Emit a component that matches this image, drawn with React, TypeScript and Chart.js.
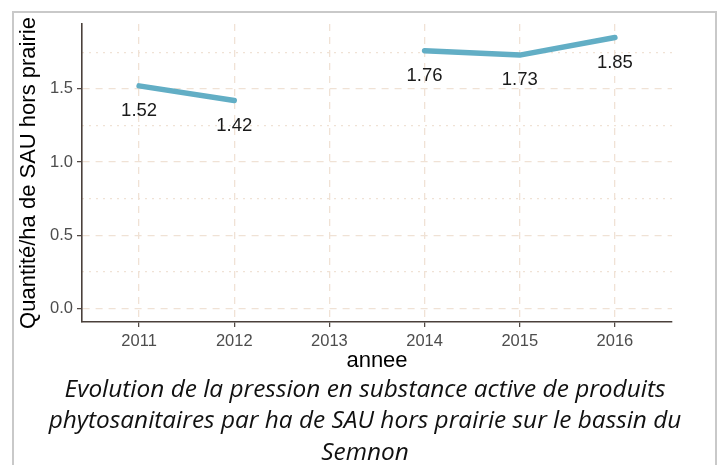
import React, { useEffect, useRef } from "react";
import { Chart, registerables } from "chart.js";

Chart.register(...registerables);

const years = [2011, 2012, 2013, 2014, 2015, 2016];
const values: (number | null)[] = [1.52, 1.42, null, 1.76, 1.73, 1.85];
const yTicks = [0, 0.5, 1.0, 1.5];
const yMinorTicks = [0.25, 0.75, 1.25, 1.75];
const yTitle = "Quantité/ha de SAU hors prairie";
const xTitle = "annee";
const captionLines = [
  "Evolution de la pression en substance active de produits",
  "phytosanitaires par ha de SAU hors prairie sur le bassin du",
  "Semnon",
];

const GRID = "#f0e2d5";
const AXIS = "#4a403b";
const LINE = "#62aec5";
const FONT = "'Liberation Sans', Arial, sans-serif";

const valueLabels = {
  id: "valueLabels",
  afterDatasetsDraw(chart: any) {
    const ctx = chart.ctx;
    const meta = chart.getDatasetMeta(0);
    ctx.save();
    ctx.font = `18.5px ${FONT}`;
    ctx.fillStyle = "#1a1a1a";
    ctx.textAlign = "center";
    ctx.textBaseline = "alphabetic";
    meta.data.forEach((el: any, i: number) => {
      const v = values[i];
      if (v === null || v === undefined) return;
      ctx.fillText(v.toFixed(2), el.x, el.y + 30);
    });
    ctx.restore();
  },
};

export default function App() {
  const ref = useRef<HTMLCanvasElement>(null);
  useEffect(() => {
    if (!ref.current) return;
    const chart = new Chart(ref.current, {
      type: "line",
      data: {
        datasets: [
          {
            data: years.map((y, i) => ({ x: y, y: values[i] })) as any,
            borderColor: LINE,
            borderWidth: 5.5,
            borderCapStyle: "round",
            borderJoinStyle: "round",
            pointRadius: 0,
            spanGaps: false,
            tension: 0,
          },
        ],
      },
      options: {
        animation: false,
        responsive: false,
        maintainAspectRatio: false,
        layout: { padding: { left: 0, top: 24, right: 52, bottom: 0 } },
        plugins: { legend: { display: false }, tooltip: { enabled: false } },
        scales: {
          x: {
            type: "linear",
            min: 2010.4,
            max: 2016.6,
            afterBuildTicks: (axis: any) => {
              axis.ticks = years.map((v) => ({ value: v }));
            },
            afterFit: (axis: any) => {
              axis.height = 58;
            },
            ticks: {
              callback: (v: any) => String(v),
              font: { family: FONT, size: 16.5 },
              color: "#4d4d4d",
              padding: 5,
              maxRotation: 0,
            },
            grid: {
              color: GRID,
              lineWidth: 1.3,
              tickColor: AXIS,
              tickLength: 5,
              tickWidth: 1.2,
            },
            border: { display: true, color: AXIS, width: 1.6, dash: [7, 6] },
            title: {
              display: true,
              text: xTitle,
              font: { family: FONT, size: 22 },
              color: "#000",
              padding: { top: 0, bottom: 6 },
            },
          },
          y: {
            position: "left",
            min: -0.0925,
            max: 1.9425,
            afterBuildTicks: (axis: any) => {
              axis.ticks = yTicks.map((v) => ({ value: v }));
            },
            afterFit: (axis: any) => {
              axis.width = 82;
            },
            ticks: {
              callback: (v: any) => Number(v).toFixed(1),
              font: { family: FONT, size: 16.5 },
              color: "#4d4d4d",
              padding: 4,
            },
            grid: {
              color: GRID,
              lineWidth: 1.3,
              tickColor: AXIS,
              tickLength: 5,
              tickWidth: 1.2,
            },
            border: { display: true, color: AXIS, width: 1.6, dash: [7, 6] },
            title: {
              display: true,
              text: yTitle,
              font: { family: FONT, size: 22 },
              color: "#000",
              padding: { top: 16, bottom: 0 },
            },
          },
          yMinor: {
            position: "left",
            min: -0.0925,
            max: 1.9425,
            afterBuildTicks: (axis: any) => {
              axis.ticks = yMinorTicks.map((v) => ({ value: v }));
            },
            afterFit: (axis: any) => {
              axis.width = 0;
            },
            ticks: { display: false },
            grid: {
              color: GRID,
              lineWidth: 1.3,
              drawTicks: false,
            },
            border: { display: false, dash: [2, 5] },
          },
        },
      } as any,
      plugins: [valueLabels],
    });
    return () => chart.destroy();
  }, []);

  return (
    <div style={{ position: "absolute", left: 0, top: 0, width: 724, height: 465, overflow: "hidden", background: "#fff" }}>
      <div
        style={{
          position: "absolute",
          left: 12,
          top: 11,
          width: 705,
          height: 480,
          border: "2px solid #c9c9c9",
          boxSizing: "border-box",
        }}
      />
      <canvas
        ref={ref}
        width={724}
        height={380}
        style={{ position: "absolute", left: 0, top: 0, width: 724, height: 380 }}
      />
      <div
        style={{
          position: "absolute",
          left: 13,
          top: 371.5,
          width: 704,
          textAlign: "center",
          fontFamily: "'Open Sans', Lato, sans-serif",
          fontStyle: "italic",
          fontSize: 24.4,
          lineHeight: "31.7px",
          color: "#111",
        }}
      >
        {captionLines.map((l, i) => (
          <div key={i} style={{ whiteSpace: "nowrap" }}>
            {l}
          </div>
        ))}
      </div>
    </div>
  );
}
